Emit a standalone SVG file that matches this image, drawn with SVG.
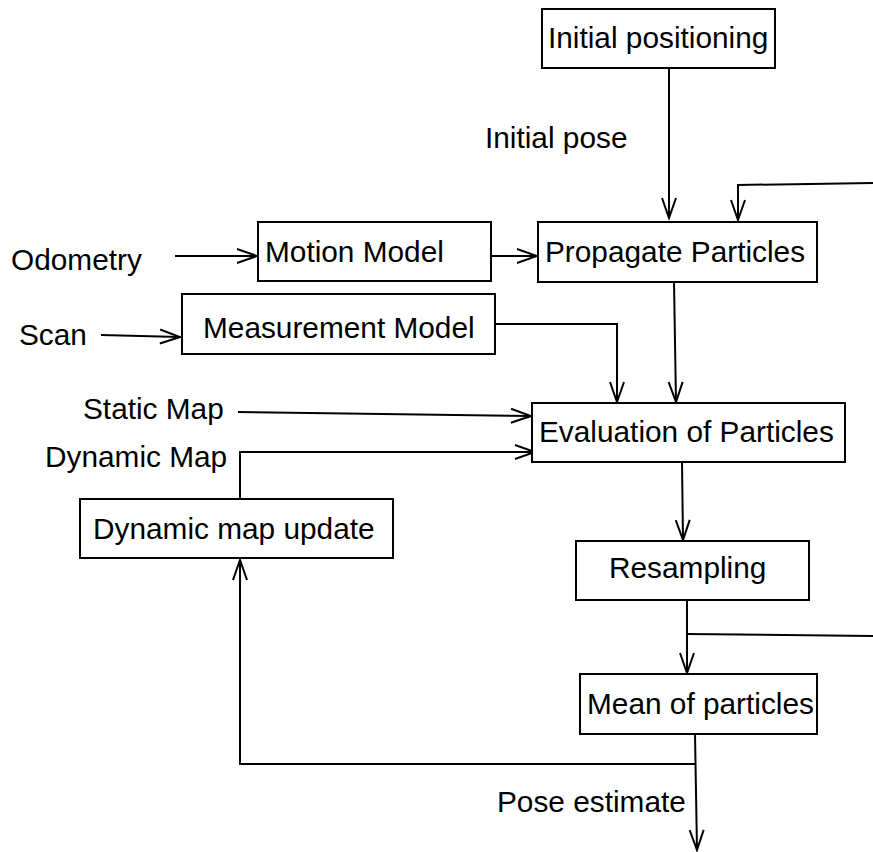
<svg xmlns="http://www.w3.org/2000/svg" width="873" height="852" viewBox="0 0 873 852">
<style>
.box{fill:#fff;stroke:#000;stroke-width:2}
.t{font-family:"Liberation Sans",Arial,sans-serif;font-size:29.8px;fill:#000}
.c{fill:none;stroke:#000;stroke-width:2}
</style>
<defs>
<marker id="a" markerUnits="userSpaceOnUse" markerWidth="24" markerHeight="20" viewBox="-22 -10 24 20" refX="0" refY="0" orient="auto">
<path d="M-20,-7 L0,0 L-20,7" fill="none" stroke="#000" stroke-width="2"/>
</marker>
</defs>
<rect width="873" height="852" fill="#fff"/>
<g id="connectors">
<path class="c" d="M669,68 L669,218" marker-end="url(#a)"/>
<path class="c" d="M873,183 L738,185 L738,220" marker-end="url(#a)"/>
<path class="c" d="M175,256 L257,256" marker-end="url(#a)"/>
<path class="c" d="M491,256 L537,256" marker-end="url(#a)"/>
<path class="c" d="M101,335 L180,337" marker-end="url(#a)"/>
<path class="c" d="M495,324 L617,324 L617,402" marker-end="url(#a)"/>
<path class="c" d="M674,282 L676,402" marker-end="url(#a)"/>
<path class="c" d="M238,412 L531,416" marker-end="url(#a)"/>
<path class="c" d="M240,499 L240,452 L535,452" marker-end="url(#a)"/>
<path class="c" d="M682,462 L683,540" marker-end="url(#a)"/>
<path class="c" d="M687,600 L687,673" marker-end="url(#a)"/>
<path class="c" d="M687,634 L873,636"/>
<path class="c" d="M695,734 L697,850" marker-end="url(#a)"/>
<path class="c" d="M695,764 L240,764 L240,560" marker-end="url(#a)"/>
</g>
<g id="initial-positioning"><rect class="box" x="542" y="9" width="233" height="59"/><text class="t" x="548" y="48">Initial positioning</text></g>
<g id="motion-model"><rect class="box" x="258" y="222" width="233" height="59"/><text class="t" x="265" y="262">Motion Model</text></g>
<g id="propagate-particles"><rect class="box" x="538" y="222" width="279" height="60"/><text class="t" x="545" y="262">Propagate Particles</text></g>
<g id="measurement-model"><rect class="box" x="182" y="294" width="313" height="60"/><text class="t" x="203" y="338">Measurement Model</text></g>
<g id="evaluation"><rect class="box" x="532" y="403" width="313" height="59"/><text class="t" x="539" y="442">Evaluation of Particles</text></g>
<g id="dynamic-map-update"><rect class="box" x="80" y="499" width="313" height="59"/><text class="t" x="93" y="539">Dynamic map update</text></g>
<g id="resampling"><rect class="box" x="576" y="541" width="233" height="59"/><text class="t" x="609" y="578">Resampling</text></g>
<g id="mean"><rect class="box" x="580" y="674" width="237" height="60"/><text class="t" x="587" y="714">Mean of particles</text></g>
<g id="labels">
<text class="t" x="485" y="148">Initial pose</text>
<text class="t" x="11" y="270">Odometry</text>
<text class="t" x="19" y="345">Scan</text>
<text class="t" x="83" y="419">Static Map</text>
<text class="t" x="45" y="467">Dynamic Map</text>
<text class="t" x="497" y="812">Pose estimate</text>
</g>
</svg>
